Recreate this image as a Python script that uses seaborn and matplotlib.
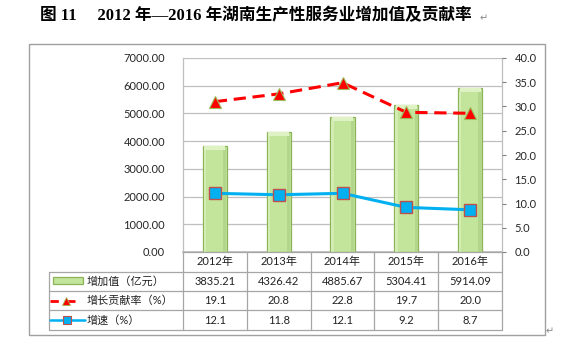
import numpy as np
import pandas as pd
import matplotlib
matplotlib.use("Agg")
import matplotlib.pyplot as plt
import seaborn as sns
from matplotlib.lines import Line2D
from matplotlib.patches import Rectangle
from matplotlib.transforms import blended_transform_factory

# ---------------- data ----------------
years = ['2012年', '2013年', '2014年', '2015年', '2016年']
value_added = [3835.21, 4326.42, 4885.67, 5304.41, 5914.09]      # 增加值（亿元）
contribution = [19.1, 20.8, 22.8, 19.7, 20.0]                    # 增长贡献率（%） table values
contribution_drawn = [31.0, 32.6, 34.9, 28.8, 28.6]              # positions of red markers as drawn
growth = [12.1, 11.8, 12.1, 9.2, 8.7]                            # 增速（%）
left_ticks = [0, 1000, 2000, 3000, 4000, 5000, 6000, 7000]
right_ticks = [0, 5, 10, 15, 20, 25, 30, 35, 40]
title = '图 11　 2012 年—2016 年湖南生产性服务业增加值及贡献率'
row_labels = ['增加值（亿元）', '增长贡献率（%）', '增速（%）']

# ---------------- style ----------------
sns.set_theme(style="white")
plt.rcParams['font.family'] = ['Lato', 'Noto Sans CJK SC', 'DejaVu Sans']
plt.rcParams['axes.unicode_minus'] = False

W, H = 570, 349
fig = plt.figure(figsize=(W / 100, H / 100), dpi=100)
fig.patch.set_facecolor('white')

def fx(px):
    return px / W

def fy(py):
    return 1 - py / H

grid_c = '#bfbfbf'
bar_face = '#c3e59b'
bar_edge = '#8db35a'
red = '#ff0000'
blue = '#00b0f0'

ax_l, ax_r, ax_t, ax_b = 183, 502, 58, 252
ax = fig.add_axes([fx(ax_l), fy(ax_b), fx(ax_r) - fx(ax_l), fy(ax_t) - fy(ax_b)])

df = pd.DataFrame({'year': years, 'value': value_added,
                   'contrib': contribution_drawn, 'growth': growth})
df['pos'] = np.arange(len(years))

sns.barplot(data=df, x='year', y='value', ax=ax, color=bar_face, width=0.38,
            edgecolor=bar_edge, linewidth=0.9, saturation=1, zorder=3)
# subtle bevel: lighter top cap and darker right side
cap = 150
ax.bar(df['pos'], [cap] * len(years), bottom=df['value'] - cap, width=0.33,
       color='#def2c4', linewidth=0, zorder=4)
ax.bar(df['pos'] + 0.155, df['value'] - cap, width=0.05,
       color='#b2d68a', linewidth=0, zorder=4)
ax.bar(df['pos'] - 0.155, df['value'] - cap, width=0.04,
       color='#d2ecb2', linewidth=0, zorder=4)

ax.set_xlim(-0.5, len(years) - 0.5)
ax.set_ylim(0, 7000)
ax.set_yticks(left_ticks)
ax.set_yticklabels([f'{v:.2f}' for v in left_ticks], fontsize=8, color='#262626')
ax.set_xticks([])
ax.set_xlabel('')
ax.set_ylabel('')
ax.grid(axis='y', color=grid_c, linewidth=0.9, zorder=0)
ax.set_axisbelow(True)
for s in ['left', 'right']:
    ax.spines[s].set_color(grid_c)
    ax.spines[s].set_linewidth(0.9)
ax.spines['top'].set_visible(False)
ax.spines['bottom'].set_color(grid_c)
ax.tick_params(axis='y', length=0, pad=13)

ax2 = ax.twinx()
sns.lineplot(data=df, x='pos', y='contrib', ax=ax2, color=red, linewidth=2.2,
             dashes=False, linestyle=(0, (4, 2.2)), marker='^', markersize=8,
             markerfacecolor=red, markeredgecolor='#9bbb59', markeredgewidth=0.8,
             zorder=5)
sns.lineplot(data=df, x='pos', y='growth', ax=ax2, color=blue, linewidth=2.2,
             marker='s', markersize=8, markerfacecolor=blue,
             markeredgecolor='#c0504d', markeredgewidth=1.0, zorder=5)
ax2.set_ylim(0, 40)
ax2.set_yticks(right_ticks)
ax2.set_yticklabels([f'{v:.1f}' for v in right_ticks], fontsize=8, color='#262626')
ax2.set_xlim(-0.5, len(years) - 0.5)
ax2.set_ylabel('')
ax2.set_xlabel('')
ax2.tick_params(axis='y', length=3, width=0.8, color='#808080', pad=6, right=True)
for s in ax2.spines.values():
    s.set_visible(False)

# ---------------- data table ----------------
tx = blended_transform_factory(ax.transData, fig.transFigure)
line_c = '#a6a6a6'
rows_y = [252, 272, 291, 310, 330]
tab_left = 49

def hline(x0, x1, y):
    fig.add_artist(Line2D([fx(x0), fx(x1)], [fy(y), fy(y)], color=line_c, lw=0.9))

def vline(x, y0, y1):
    fig.add_artist(Line2D([fx(x), fx(x)], [fy(y0), fy(y1)], color=line_c, lw=0.9))

hline(ax_l, ax_r, rows_y[0])
for y in rows_y[1:]:
    hline(tab_left, ax_r, y)
vline(tab_left, rows_y[1], rows_y[-1])
vline(ax_l, rows_y[0], rows_y[-1])
for k in range(1, len(years) + 1):
    xb = ax_l + k * (ax_r - ax_l) / len(years)
    vline(xb, rows_y[0], rows_y[-1])

def cy(i):
    return fy((rows_y[i] + rows_y[i + 1]) / 2)

txt_c = '#222222'
for i, yr in enumerate(years):
    fig.text(i, cy(0), yr, transform=tx, ha='center', va='center', fontsize=8, color=txt_c)
    fig.text(i, cy(1), f'{value_added[i]:.2f}', transform=tx, ha='center', va='center', fontsize=8, color=txt_c)
    fig.text(i, cy(2), f'{contribution[i]:.1f}', transform=tx, ha='center', va='center', fontsize=8, color=txt_c)
    fig.text(i, cy(3), f'{growth[i]:.1f}', transform=tx, ha='center', va='center', fontsize=8, color=txt_c)

for r, lab in enumerate(row_labels):
    fig.text(fx(87), cy(r + 1), lab, ha='left', va='center', fontsize=8, color=txt_c)

# legend keys
fig.add_artist(Rectangle((fx(53), fy(284)), fx(83) - fx(53), fy(277) - fy(284),
                         facecolor=bar_face, edgecolor=bar_edge, lw=0.9))
fig.add_artist(Line2D([fx(50), fx(77)], [cy(2), cy(2)], color=red, lw=2,
                      linestyle=(0, (3, 3))))
fig.add_artist(Line2D([fx(66)], [cy(2)], color=red, marker='^', markersize=6,
                      markerfacecolor=red, markeredgecolor='#9bbb59', markeredgewidth=0.6))
fig.add_artist(Line2D([fx(50), fx(85)], [cy(3), cy(3)], color=blue, lw=1.8))
fig.add_artist(Line2D([fx(67)], [cy(3)], color=blue, marker='s', markersize=6,
                      markerfacecolor=blue, markeredgecolor='#c0504d', markeredgewidth=0.8))

# outer frame
fig.add_artist(Rectangle((fx(29), fy(335)), fx(545) - fx(29), fy(44) - fy(335),
                         facecolor='none', edgecolor='#a0a0a0', lw=1.0))

# title
fig.text(fx(40), fy(16), title, ha='left', va='center', fontsize=12,
         fontweight='bold', family=['Liberation Serif', 'Noto Sans CJK SC'], color='#000000')
fig.text(fx(480), fy(18), '↵', ha='left', va='center', fontsize=7,
         family=['DejaVu Sans'], color='#888888')
fig.text(fx(546), fy(331), '↵', ha='left', va='center', fontsize=7,
         family=['DejaVu Sans'], color='#888888')

fig.savefig('out.png', dpi=100, facecolor='white')
